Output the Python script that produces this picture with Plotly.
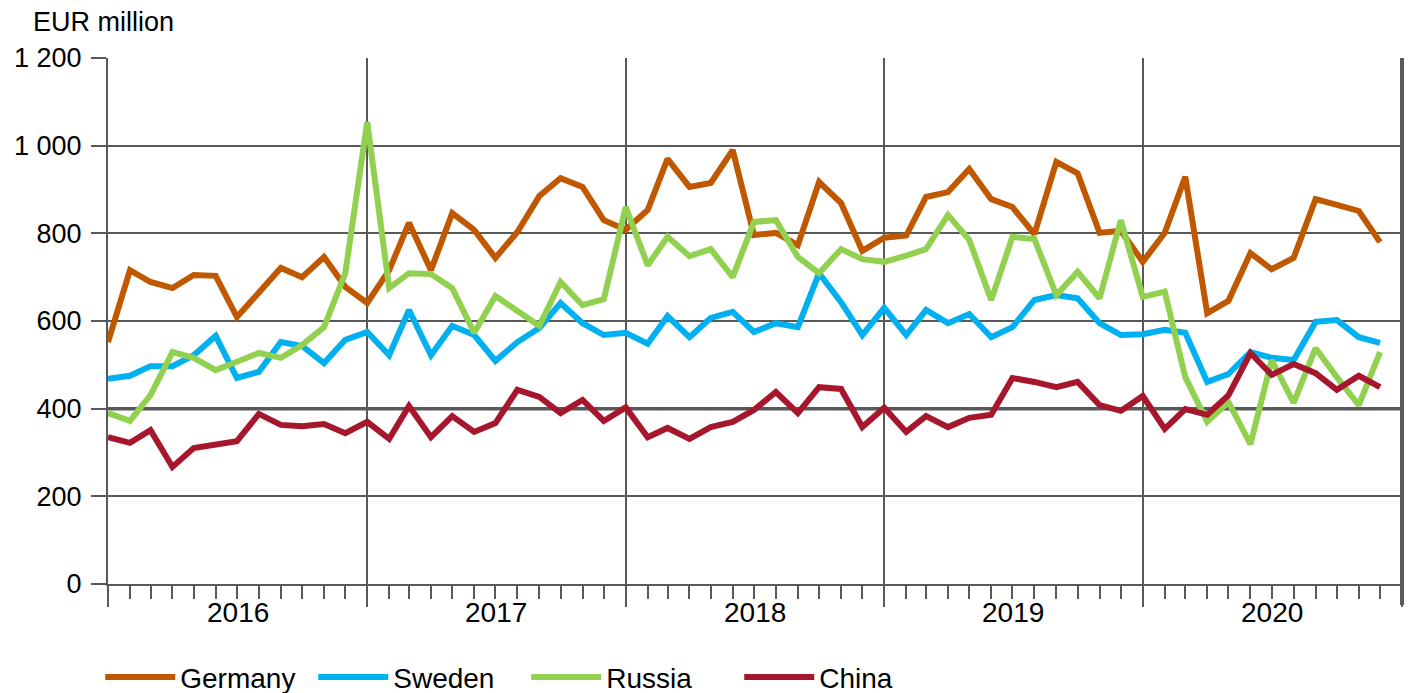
import pandas as pd
import plotly.graph_objects as go

months = pd.date_range("2016-01-01", periods=60, freq="MS")

germany = [552, 716, 689, 675, 705, 703, 609, 664, 721, 700, 746, 678,
           641, 716, 824, 716, 846, 808, 744, 803, 885, 926, 906, 830,
           808, 853, 970, 906, 915, 990, 796, 801, 773, 917, 869, 760,
           790, 795, 883, 894, 947, 878, 860, 798, 963, 937, 801, 806,
           735, 801, 929, 618, 646, 755, 718, 744, 878, 865, 851, 780]
sweden = [468, 475, 497, 497, 522, 566, 470, 484, 552, 543, 504, 557,
          575, 522, 625, 522, 589, 568, 509, 552, 584, 641, 595, 568,
          573, 548, 611, 563, 607, 621, 575, 595, 586, 709, 643, 568,
          630, 568, 625, 595, 616, 563, 586, 648, 659, 652, 595, 568,
          570, 580, 573, 461, 479, 529, 516, 511, 598, 602, 563, 550]
russia = [390, 372, 431, 529, 516, 488, 507, 527, 516, 545, 586, 709,
          1054, 675, 709, 707, 675, 573, 657, 621, 589, 689, 636, 650,
          860, 727, 792, 748, 764, 700, 826, 830, 746, 709, 764, 741,
          735, 749, 764, 842, 785, 648, 792, 787, 659, 712, 652, 830,
          655, 667, 472, 370, 415, 319, 511, 413, 538, 472, 408, 529]
china = [335, 322, 351, 267, 310, 319, 326, 388, 363, 360, 365, 344,
         370, 331, 406, 335, 383, 347, 367, 443, 427, 390, 420, 372,
         403, 335, 356, 331, 358, 370, 397, 438, 390, 449, 445, 358,
         402, 347, 383, 358, 379, 386, 470, 461, 449, 461, 408, 395,
         429, 354, 399, 386, 431, 527, 477, 502, 481, 443, 475, 449]

series_names = ["Germany", "Sweden", "Russia", "China"]
series_values = [germany, sweden, russia, china]
colors = ["#C05800", "#00B0F0", "#92D050", "#A6172D"]

y_ticks = [0, 200, 400, 600, 800, 1000, 1200]
y_labels = ["0", "200", "400", "600", "800", "1 000", "1 200"]

year_labels = ["2016", "2017", "2018", "2019", "2020"]
year_centers = ["2016-07-02", "2017-07-02", "2018-07-02", "2019-07-02", "2020-07-02"]

GRID = "#595959"
FONT = "Liberation Sans, Arial, sans-serif"

fig = go.Figure()
for name, vals, col in zip(series_names, series_values, colors):
    fig.add_trace(go.Scatter(x=months, y=vals, name=name, mode="lines",
                             line=dict(color=col, width=6)))

annotations = [dict(text="EUR million", xref="paper", yref="paper",
                    x=-0.0595, y=1.069, xanchor="left", yanchor="middle",
                    showarrow=False, font=dict(size=27, family=FONT))]
for lab, xc in zip(year_labels, year_centers):
    annotations.append(dict(text=lab, xref="x", yref="paper", x=xc, y=-0.055,
                            xanchor="center", yanchor="middle", showarrow=False,
                            font=dict(size=28, family=FONT)))

fig.update_layout(
    width=1408, height=685,
    margin=dict(l=100, r=14, t=50, b=109, autoexpand=False),
    paper_bgcolor="white", plot_bgcolor="white",
    font=dict(family=FONT, size=27, color="black"),
    showlegend=True,
    legend=dict(orientation="h", x=-0.006, y=-0.13, xanchor="left", yanchor="top",
                font=dict(size=28, family=FONT), itemwidth=70,
                entrywidth=128, entrywidthmode="pixels",
                bgcolor="rgba(0,0,0,0)"),
    xaxis=dict(
        type="date",
        range=["2016-01-01", "2021-01-01"],
        tick0="2016-01-01", dtick="M12",
        showticklabels=False,
        ticks="outside", ticklen=21, tickwidth=2, tickcolor=GRID,
        showgrid=True, gridcolor=GRID, gridwidth=2,
        showline=True, linecolor=GRID, linewidth=2,
        automargin=False,
        minor=dict(ticks="outside", ticklen=13, tickwidth=2, tickcolor=GRID,
                   dtick="M1", showgrid=False),
    ),
    yaxis=dict(
        range=[0, 1200],
        tickvals=y_ticks, ticktext=y_labels,
        ticks="outside", ticklen=15, tickwidth=2, tickcolor=GRID,
        showgrid=True, gridcolor=GRID, gridwidth=2,
        showline=True, linecolor=GRID, linewidth=2, mirror=True,
        zeroline=False, automargin=False,
        ticklabelstandoff=4,
        tickfont=dict(size=27, family=FONT),
    ),
    annotations=annotations,
    shapes=[dict(type="line", xref="paper", yref="y", x0=0, x1=1, y0=400, y1=400,
                 line=dict(color=GRID, width=3.5), layer="below"),
            dict(type="line", xref="paper", yref="paper", x0=1, x1=1, y0=-0.04, y1=1,
                 line=dict(color=GRID, width=4), layer="above")],
)

fig.write_html("out.html")
